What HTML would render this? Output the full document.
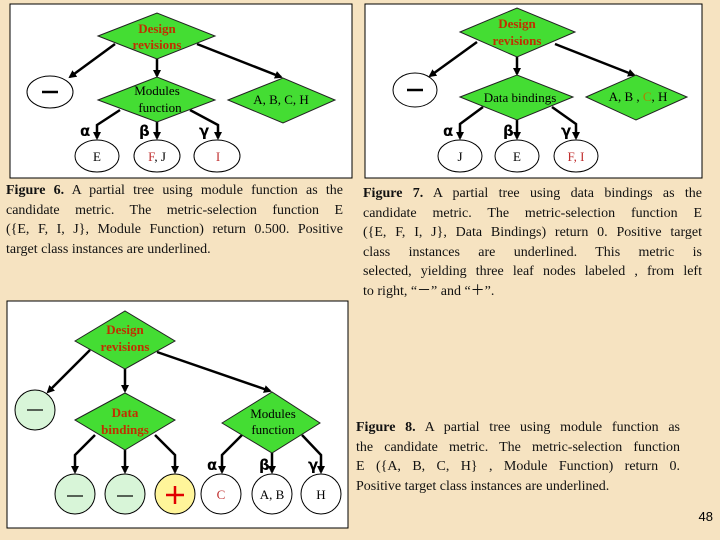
<!DOCTYPE html>
<html><head><meta charset="utf-8"><style>
body{margin:0;width:720px;height:540px;overflow:hidden;background:#f6e3c1;font-family:"Liberation Serif",serif;position:relative}
.t{position:absolute;font-size:14px;color:#111;line-height:19.5px}
.t div{text-align:justify;text-align-last:justify;white-space:nowrap}
.t div.l{text-align-last:left}
svg{position:absolute;left:0;top:0}
</style></head><body>
<svg width="720" height="540" viewBox="0 0 720 540" font-family="Liberation Serif, serif">
<defs><marker id="a" markerWidth="8" markerHeight="8" refX="6" refY="4" orient="auto" markerUnits="userSpaceOnUse"><path d="M0,0 L8,4 L0,8z" fill="#000"/></marker></defs>
<g stroke="#000" stroke-width="1" fill="#fff">
<rect x="10" y="4" width="342" height="174"/>
<rect x="365" y="4" width="337" height="174"/>
<rect x="7" y="301" width="341" height="227"/>
</g>
<g stroke="#000" stroke-width="2.5" fill="none" marker-end="url(#a)">
<!-- panel1 -->
<line x1="115" y1="44" x2="70" y2="77"/>
<line x1="157" y1="59" x2="157" y2="76"/>
<line x1="197" y1="44" x2="281" y2="77"/>
<polyline points="120,110 97,125 97,138"/>
<line x1="157" y1="122" x2="157" y2="138"/>
<polyline points="190,110 218,125 218,138"/>
<!-- panel2 -->
<line x1="477" y1="42" x2="430" y2="76"/>
<line x1="517" y1="57" x2="517" y2="74"/>
<line x1="555" y1="44" x2="634" y2="75"/>
<polyline points="483,107 460,124 460,138"/>
<line x1="517" y1="120" x2="517" y2="138"/>
<polyline points="552,107 576,124 576,138"/>
<!-- panel3 -->
<line x1="90" y1="350" x2="48" y2="392"/>
<line x1="125" y1="369" x2="125" y2="391"/>
<line x1="157" y1="352" x2="270" y2="391"/>
<polyline points="95,435 75,455 75,472"/>
<line x1="125" y1="450" x2="125" y2="472"/>
<polyline points="155,435 175,455 175,472"/>
<polyline points="242,435 222,455 222,472"/>
<line x1="272" y1="453" x2="272" y2="472"/>
<polyline points="302,435 321,455 321,472"/>
</g>
<g fill="#44dd33" stroke="#222" stroke-width="1">
<polygon points="98,36 157,13 215,36 157,59"/>
<polygon points="98,100 157,77 215,100 157,122"/>
<polygon points="228,100 283,78 335,100 283,123"/>
<polygon points="460,32 517,8 575,32 517,57"/>
<polygon points="460,97 517,75 573,97 517,120"/>
<polygon points="586,97 636,75 687,97 636,120"/>
<polygon points="75,341 125,311 175,341 125,369"/>
<polygon points="75,420 125,393 175,420 125,450"/>
<polygon points="222,423 272,392 320,423 272,453"/>
</g>
<g fill="#fff" stroke="#000" stroke-width="1">
<ellipse cx="50" cy="92" rx="23" ry="16"/>
<ellipse cx="97" cy="156" rx="22" ry="16"/>
<ellipse cx="157" cy="156" rx="23" ry="16"/>
<ellipse cx="217" cy="156" rx="23" ry="16"/>
<ellipse cx="415" cy="90" rx="22" ry="17"/>
<ellipse cx="460" cy="156" rx="22" ry="16"/>
<ellipse cx="517" cy="156" rx="22" ry="16"/>
<ellipse cx="576" cy="156" rx="22" ry="16"/>
<circle cx="35" cy="410" r="20" fill="#d8f5d8"/>
<circle cx="75" cy="494" r="20" fill="#d8f5d8"/>
<circle cx="125" cy="494" r="20" fill="#d8f5d8"/>
<circle cx="175" cy="494" r="20" fill="#fff59a"/>
<circle cx="221" cy="494" r="20"/>
<circle cx="272" cy="494" r="20"/>
<circle cx="321" cy="494" r="20"/>
</g>
<g font-size="13" text-anchor="middle">
<g fill="#c03000" font-weight="bold">
<text x="157" y="33">Design</text><text x="157" y="49">revisions</text>
<text x="517" y="28">Design</text><text x="517" y="45">revisions</text>
<text x="125" y="334">Design</text><text x="125" y="351">revisions</text>
<text x="125" y="417">Data</text><text x="125" y="434">bindings</text>
</g>
<text x="157" y="95">Modules</text><text x="160" y="112">function</text>
<text x="281" y="104">A, B, C, H</text>
<text x="520" y="102">Data bindings</text>
<text x="638" y="101">A, B , <tspan fill="#b08000">C</tspan>, H</text>
<text x="273" y="418">Modules</text><text x="273" y="434">function</text>
<text x="97" y="161">E</text>
<text x="157" y="161"><tspan fill="#c03030">F</tspan>, J</text>
<text x="218" y="161" fill="#c03030">I</text>
<text x="460" y="161">J</text>
<text x="517" y="161">E</text>
<text x="576" y="161" fill="#c03030">F, I</text>
<text x="221" y="499" fill="#c03030">C</text>
<text x="272" y="499">A, B</text>
<text x="321" y="499">H</text>
</g>
<g font-size="15" font-weight="bold" font-family="DejaVu Sans, sans-serif">
<text x="80" y="136">α</text><text x="139" y="136">β</text><text x="199" y="136">γ</text>
<text x="443" y="136">α</text><text x="503" y="136">β</text><text x="561" y="136">γ</text>
<text x="207" y="470">α</text><text x="259" y="470">β</text><text x="308" y="470">γ</text>
</g>
<g stroke="#000" stroke-width="2.5">
<line x1="42" y1="92" x2="58" y2="92"/>
<line x1="407" y1="90" x2="423" y2="90"/>
</g>
<g stroke="#000" stroke-width="1.2">
<line x1="27" y1="410" x2="43" y2="410"/>
<line x1="67" y1="496" x2="83" y2="496"/>
<line x1="117" y1="496" x2="133" y2="496"/>
</g>
<g stroke="#e00000" stroke-width="2.5">
<line x1="166" y1="495" x2="184" y2="495"/><line x1="175" y1="486" x2="175" y2="504"/>
</g>
<text x="713" y="521" font-family="Liberation Sans, sans-serif" font-size="13" text-anchor="end">48</text>
</svg>
<div class="t" style="left:6px;top:181px;width:337px">
<div><b>Figure 6.</b> A partial tree using module function as the</div>
<div>candidate metric. The metric-selection function E</div>
<div>({E, F, I, J}, Module Function) return 0.500. Positive</div>
<div class="l">target class instances are underlined.</div>
</div>
<div class="t" style="left:363px;top:184px;width:339px">
<div><b>Figure 7.</b> A partial tree using data bindings as the</div>
<div>candidate metric. The metric-selection function E</div>
<div>({E, F, I, J}, Data Bindings) return 0. Positive target</div>
<div>class instances are underlined. This metric is</div>
<div>selected, yielding three leaf nodes labeled , from left</div>
<div class="l">to right, “－” and “＋”.</div>
</div>
<div class="t" style="left:356px;top:418px;width:324px">
<div><b>Figure 8.</b> A partial tree using module function as</div>
<div>the candidate metric. The metric-selection function</div>
<div>E ({A, B, C, H} , Module Function) return 0.</div>
<div class="l">Positive target class instances are underlined.</div>
</div>
</body></html>
